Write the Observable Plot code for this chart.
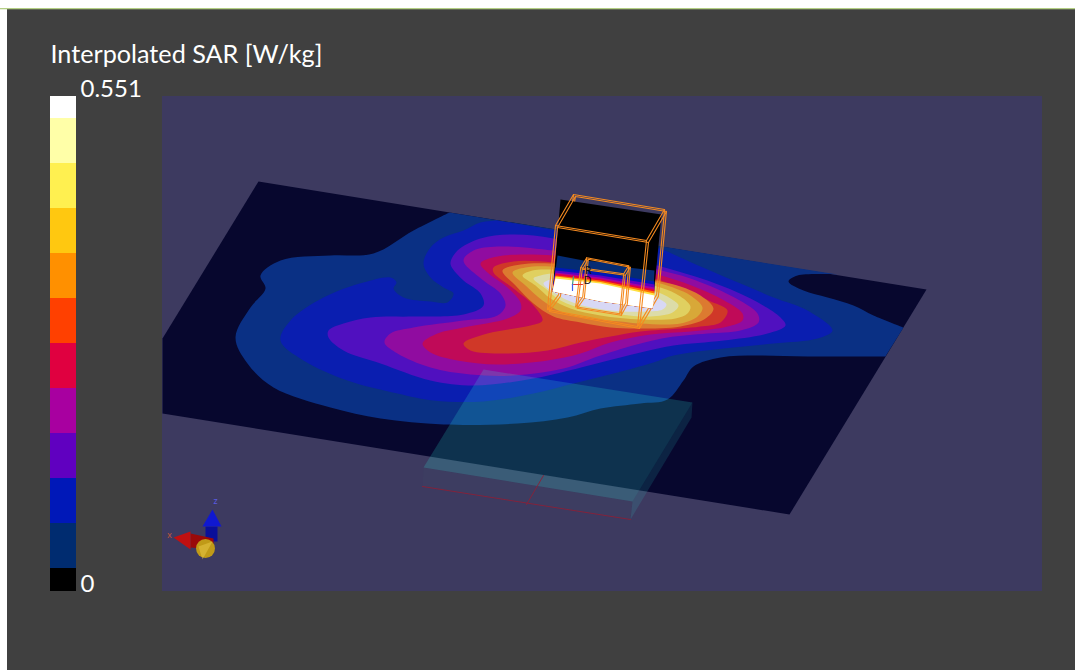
<!DOCTYPE html>
<html><head><meta charset="utf-8">
<script src="https://cdn.jsdelivr.net/npm/d3@7"></script>
<script src="https://cdn.jsdelivr.net/npm/@observablehq/plot@0.6"></script>
<style>html,body{margin:0;padding:0;background:#fff;overflow:hidden}svg{display:block}</style>
</head><body><div id="chart"></div>
<script>
// Colour-bar
const legendTitle = "Interpolated SAR [W/kg]";
const legendMax = "0.551", legendMin = "0";
const legendEdges = [96,118,163,208,253,298,343,388,433,478,523,568,591];
const legendColors = ["#ffffff","#ffffa8","#fff050","#ffc810","#ff9000","#ff4000","#e00040","#a800a0","#6000c0","#0018b8","#002c70","#000000"];

// Scene outlines (picture units)
const panel = [[162,96],[1042,96],[1042,591],[162,591]];
const plate = [[258,181],[926,289],[789,514],[162,413],[162,338]];
const contourNavy = [[837,274],[797,275],[788,281],[803,290],[827,297],[853,305],[873,315],[903,327],[903,327],[885,356],[885,356],[807,356],[757,355],[720,357],[693,366],[683,380],[667,399],[640,403],[600,408],[567,417],[517,423],[443,424],[380,418],[330,407],[273,387],[247,363],[235,337],[250,307],[265,288],[260,275],[280,260],[330,255],[373,253],[413,230],[449,212]];
const contourBlue = [[660,248],[700,266],[740,283],[773,297],[807,310],[832,330],[817,338],[773,343],[723,348],[673,355],[653,362],[613,373],[573,383],[533,393],[483,401],[433,400],[397,393],[347,380],[303,360],[280,340],[290,320],[323,297],[363,282],[390,277],[396,282],[393,288],[403,297],[430,301],[447,302],[453,293],[443,287],[430,277],[423,263],[430,247],[443,237],[463,230],[480,222],[497,220]];
const contourPurple = [[450,262],[457,250],[480,238],[513,234],[553,238],[610,252],[657,265],[707,280],[750,298],[780,317],[785,325],[767,333],[723,340],[673,345],[640,352],[600,362],[533,378],[473,385],[430,380],[380,363],[343,350],[328,337],[328,330],[343,323],[370,317],[413,316],[463,314],[483,305],[480,293],[463,280],[452,268]];
const contourMagenta = [[463,260],[473,250],[497,246],[553,250],[610,258],[657,269],[690,278],[730,295],[757,313],[758,322],[740,330],[707,333],[667,337],[640,343],[600,355],[563,368],[513,375],[470,374],[430,367],[397,353],[384,342],[390,333],[413,327],[463,320],[497,315],[505,305],[500,293],[483,280]];
const contourCrimson = [[480,263],[497,256],[553,255],[610,263],[653,273],[683,282],[720,298],[742,313],[742,320],[727,326],[690,331],[650,334],[610,342],[580,353],[547,360],[497,364],[457,360],[430,352],[422,343],[437,333],[463,327],[507,318],[520,310],[520,302],[507,287],[487,272]];
const contourRed = [[493,267],[513,261],[553,262],[600,268],[650,277],[680,287],[708,300],[727,310],[720,322],[700,326],[680,328],[640,331],[610,336],[580,342],[547,350],[503,353],[470,350],[463,343],[487,333],[530,325],[542,320],[533,305],[513,288],[493,272]];
const contourOrange = [[502,270],[515,285],[533,303],[553,316],[580,322],[610,327],[640,328],[680,326],[705,318],[713,308],[700,295],[680,286],[660,281],[620,272],[580,266],[550,263],[520,264]];
const contourAmber = [[512,272],[525,285],[542,300],[560,311],[590,318],[620,321],[640,323],[680,323],[697,316],[702,307],[690,295],[675,288],[660,283],[620,275],[585,270],[550,266],[525,267]];
const contourYellow = [[522,275],[535,285],[550,298],[570,308],[600,315],[640,319],[675,318],[687,313],[690,306],[680,296],[660,287],[620,279],[585,272],[550,269],[532,270]];
const contourPale = [[533,278],[545,288],[560,300],[585,309],[620,314],[650,316],[672,312],[678,305],[670,298],[655,291],[620,283],[585,276],[552,273],[540,275]];
const contourLavender = [[543,283],[555,293],[575,303],[610,310],[645,311],[662,309],[666,304],[658,298],[640,292],[600,283],[565,278],[550,279]];
const closedContours = [
  [contourPurple,"#5010bf"],[contourMagenta,"#900ca0"],[contourCrimson,"#c00a58"],[contourRed,"#d03828"],
  [contourOrange,"#dc7a30"],[contourAmber,"#d8a838"],[contourYellow,"#e0d060"],[contourPale,"#dcdca8"],[contourLavender,"#d8d8f5"]
];

// Vertical slice inside the wireframe
const sliceBottom = [[652,308],[600,301],[552,291]];
const sliceBands = [
  [[[560,199],[661,214]],"#000000"],
  [[[557,255],[583,260],[607,262],[627,267],[654,270]],"#052c74"],
  [[[555,267],[600,272],[654,281]],"#0018b8"],
  [[[555,270],[600,275],[654,284]],"#6000c0"],
  [[[555,272],[600,277],[654,287]],"#a800a0"],
  [[[555,273],[600,278.5],[654,289]],"#e00040"],
  [[[555,275],[600,280],[654,291]],"#ff7000"],
  [[[555,276],[600,281.5],[654,293]],"#ffe040"],
  [[[555,278],[600,283],[654,295]],"#ffffff"]
];

// Wireframes: node lists for each edge
const outerBox = [
  [[574,195],[665,210],[647,241],[556,226],[574,195]],
  [[556,226],[548,310],[638,327],[647,241]],
  [[665,210],[657,295],[638,327]],
  [[574,195],[559,295],[548,310]]
];
const innerBox = [
  [[587,258],[629,266],[624,274],[581,268],[587,258]],
  [[581,268],[576,307],[620,314],[624,274]],
  [[629,266],[626,303],[620,314]],
  [[587,258],[583,297],[576,307]]
];
const innerLetters = [["R",588,270],["D",587,280]];
const markerRed = [[573,284],[582,284]], markerGreen = [[573,276],[572,284]], markerBlue = [[572,284],[572,290]];

// Translucent block
const blockTop = [[483,369],[692,402],[632,501],[423,467]];
const blockSide = [[692,402],[691,417],[630,519],[632,501]];
const blockFront = [[423,467],[632,501],[630,519],[422,486]];
const blockRed = [[[422,486],[630,519]],[[543,475],[526,504]]];

// Orientation triad
const triadBlueShaft = [[205,526],[217,526],[217,541],[205,541]];
const triadBlueCone = [[212,509],[221,526],[202,526]];
const triadRedShaft = [[190,533],[213,538],[213,549],[190,547]];
const triadRedCone = [[173,537],[190,531],[190,549]];
const triadYellow = [[205,548]];
const triadYellowTip = [[212,541],[202,559],[198,546]];
const triadLetters = [["z",215,501,"#5a5ae0"],["x",169,535,"#c0583a"]];

const px = d => d[0], py = d => d[1];
const poly = (pts, fill, o = {}) => Plot.line(pts, {x: px, y: py, fill, stroke: "none", curve: "linear", ...o});
const smooth = (pts, fill, curve) => Plot.line(pts, {x: px, y: py, fill, stroke: "none", curve});
const wire = (lines, d) => lines.map(l => Plot.line(l, {x: px, y: py, stroke: "#f58a20", strokeWidth: 1.1, dx: d, dy: d, curve: "linear"}));

const legendBands = legendColors.map((c, i) => ({c, y1: legendEdges[i], y2: legendEdges[i + 1]}));
const textFont = "Lato";

const chart = Plot.plot({
  width: 1075, height: 670, margin: 0,
  x: {domain: [0, 1075], axis: null},
  y: {domain: [670, 0], axis: null},
  style: {background: "#ffffff", fontFamily: textFont},
  marks: [
    Plot.rect([0], {x1: 7, x2: 1075, y1: 9, y2: 670, fill: "#404040"}),
    Plot.rect([0], {x1: 0, x2: 1075, y1: 8, y2: 9.3, fill: "#b4cf84"}),
    poly(panel, "#3d3a60", {dx: -0.5, dy: -0.5}),
    poly(plate, "#07072e"),
    smooth(contourNavy, "#0a3084", "catmull-rom"),
    smooth(contourBlue, "#0a1eb0", "catmull-rom"),
    ...closedContours.map(([p, c]) => smooth(p, c, "catmull-rom-closed")),
    // vertical slice
    ...wire(outerBox.slice(2), -0.9), ...wire(outerBox.slice(2), 0.9),
    ...sliceBands.map(([top, c]) => poly([...top, ...sliceBottom], c)),
    ...wire(innerBox, -0.8), ...wire(innerBox, 0.8),
    ...wire(outerBox.slice(0, 2), -1), ...wire(outerBox.slice(0, 2), 1),
    Plot.text(innerLetters, {x: d => d[1], y: d => d[2], text: d => d[0], fill: "#10101a", fontSize: 10, fontFamily: "DejaVu Sans"}),
    Plot.line(markerRed, {x: px, y: py, stroke: "#e83030", strokeWidth: 1}),
    Plot.line(markerGreen, {x: px, y: py, stroke: "#40a080", strokeWidth: 1.2}),
    Plot.line(markerBlue, {x: px, y: py, stroke: "#4060f0", strokeWidth: 1.2}),
    // block
    poly(blockTop, "#31eedc", {fillOpacity: 0.19}),
    poly(blockSide, "#31eedc", {fillOpacity: 0.12}),
    poly(blockFront, "#31eedc", {fillOpacity: 0.015}),
    ...blockRed.map(l => Plot.line(l, {x: px, y: py, stroke: "#8a2038", strokeWidth: 0.9})),
    // triad
    poly(triadBlueShaft, "#0a0f9a"),
    poly(triadBlueCone, "#1018d0"),
    poly(triadRedShaft, "#9a0a0a"),
    poly(triadRedCone, "#c01010"),
    Plot.dot(triadYellow, {x: px, y: py, r: 9.5, fill: "#c09a18"}),
    poly(triadYellowTip, "#f0d050", {fillOpacity: 0.45}),
    Plot.text(triadLetters, {x: d => d[1], y: d => d[2], text: d => d[0], fill: d => d[3], fontSize: 9}),
    // colour-bar
    Plot.rect(legendBands, {x1: 50, x2: 76, y1: "y1", y2: "y2", fill: "c"}),
    Plot.text([legendTitle], {x: 50, y: 54, text: d => d, fill: "#ffffff", fontSize: 25.2, textAnchor: "start", fontFamily: textFont}),
    Plot.text([legendMax], {x: 80, y: 89, text: d => d, fill: "#ffffff", fontSize: 24, textAnchor: "start", fontFamily: textFont}),
    Plot.text([legendMin], {x: 80, y: 584, text: d => d, fill: "#ffffff", fontSize: 24, textAnchor: "start", fontFamily: textFont})
  ]
});
document.getElementById("chart").append(chart);
</script></body></html>
